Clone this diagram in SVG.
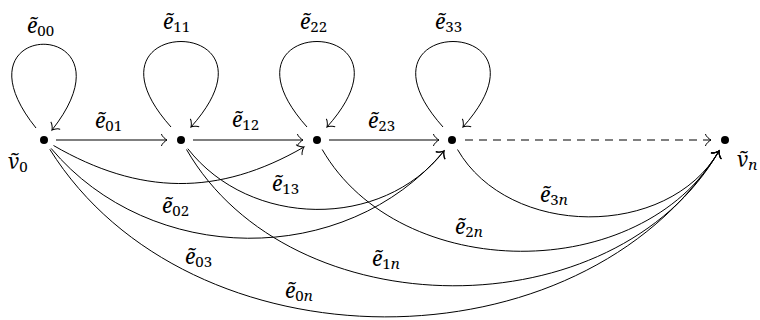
<svg xmlns="http://www.w3.org/2000/svg" width="760" height="320" viewBox="0 0 760 320">
<style>
.dot{fill:#000}
.e{fill:none;stroke:#000;stroke-width:1;marker-end:url(#to)}
.h{stroke:#000;stroke-width:1.1;marker-end:url(#to)}
.d{stroke-dasharray:8 6}
</style>
<defs>
<marker id="to" markerUnits="userSpaceOnUse" markerWidth="10" markerHeight="16" viewBox="-8 -8 10 16" refX="0" refY="0" orient="auto" overflow="visible">
<path d="M-5.6,-6 C-5.25,-3.75 -1.1,-0.4 0,0 C-1.1,0.4 -5.25,3.75 -5.6,6" fill="none" stroke="#000" stroke-width="1"/>
</marker>
</defs>
<g id="connectors">
<path class="e" d="M36,128 C-54,16 142,16 52,130"/>
<path class="e" d="M171,127 C69,13 293,13 191,127"/>
<path class="e" d="M307,127 C205,13 429,13 327,127"/>
<path class="e" d="M443,127 C341,13 565,13 463,127"/>
<line class="h" x1="56" y1="140" x2="167" y2="140"/>
<line class="h" x1="193" y1="140" x2="303" y2="140"/>
<line class="h" x1="329" y1="140" x2="439" y2="140"/>
<line class="h d" x1="465" y1="140" x2="711" y2="140"/>
<path class="e" d="M53.5,145.5 C139.5,195.2 218,196.7 304,147"/>
<path class="e" d="M51.1,148.4 C150.2,266.5 345,269 444,151"/>
<path class="e" d="M187.8,148.7 C249.9,228.1 381.9,230.4 444,151"/>
<path class="e" d="M49.8,149.3 C188.7,371.6 580.1,373.3 719,151"/>
<path class="e" d="M186.5,149.5 C290.8,330.2 614.7,331.7 719,151"/>
<path class="e" d="M322.2,149.5 C400,284.2 641.2,285.7 719,151"/>
<path class="e" d="M457.5,149.5 C508.8,238.3 667.7,239.8 719,151"/>
<text font-family="Noto Serif" font-size="21" font-style="italic" x="27" y="33">ẽ<tspan font-size="15" font-style="normal" dy="3">00</tspan></text>
<text font-family="Noto Serif" font-size="21" font-style="italic" x="163" y="29">ẽ<tspan font-size="15" font-style="normal" dy="3">11</tspan></text>
<text font-family="Noto Serif" font-size="21" font-style="italic" x="300" y="29">ẽ<tspan font-size="15" font-style="normal" dy="3">22</tspan></text>
<text font-family="Noto Serif" font-size="21" font-style="italic" x="435" y="29">ẽ<tspan font-size="15" font-style="normal" dy="3">33</tspan></text>
<text font-family="Noto Serif" font-size="21" font-style="italic" x="95" y="128">ẽ<tspan font-size="15" font-style="normal" dy="3">01</tspan></text>
<text font-family="Noto Serif" font-size="21" font-style="italic" x="232" y="127">ẽ<tspan font-size="15" font-style="normal" dy="3">12</tspan></text>
<text font-family="Noto Serif" font-size="21" font-style="italic" x="368" y="128">ẽ<tspan font-size="15" font-style="normal" dy="3">23</tspan></text>
<text font-family="Noto Serif" font-size="21" font-style="italic" x="272" y="191">ẽ<tspan font-size="15" font-style="normal" dy="3">13</tspan></text>
<text font-family="Noto Serif" font-size="21" font-style="italic" x="162" y="213">ẽ<tspan font-size="15" font-style="normal" dy="3">02</tspan></text>
<text font-family="Noto Serif" font-size="21" font-style="italic" x="185" y="264">ẽ<tspan font-size="15" font-style="normal" dy="3">03</tspan></text>
<text font-family="Noto Serif" font-size="21" font-style="italic" x="285" y="298">ẽ<tspan font-size="15" font-style="normal" dy="3">0</tspan><tspan font-size="15" font-style="italic">n</tspan></text>
<text font-family="Noto Serif" font-size="21" font-style="italic" x="372" y="266">ẽ<tspan font-size="15" font-style="normal" dy="3">1</tspan><tspan font-size="15" font-style="italic">n</tspan></text>
<text font-family="Noto Serif" font-size="21" font-style="italic" x="455" y="234">ẽ<tspan font-size="15" font-style="normal" dy="3">2</tspan><tspan font-size="15" font-style="italic">n</tspan></text>
<text font-family="Noto Serif" font-size="21" font-style="italic" x="540" y="202">ẽ<tspan font-size="15" font-style="normal" dy="3">3</tspan><tspan font-size="15" font-style="italic">n</tspan></text>
</g>
<g id="v0"><circle class="dot" cx="44" cy="140" r="4"/><text font-family="Noto Serif" font-size="21" font-style="italic" x="8" y="169">ṽ<tspan font-size="15" font-style="normal" dy="3">0</tspan></text></g>
<g id="v1"><circle class="dot" cx="181" cy="140" r="4"/></g>
<g id="v2"><circle class="dot" cx="317" cy="140" r="4"/></g>
<g id="v3"><circle class="dot" cx="452" cy="140" r="4"/></g>
<g id="vn"><circle class="dot" cx="725" cy="140" r="4"/><text font-family="Noto Serif" font-size="21" font-style="italic" x="737" y="167">ṽ<tspan font-size="15" font-style="italic" dy="3">n</tspan></text></g>
</svg>
